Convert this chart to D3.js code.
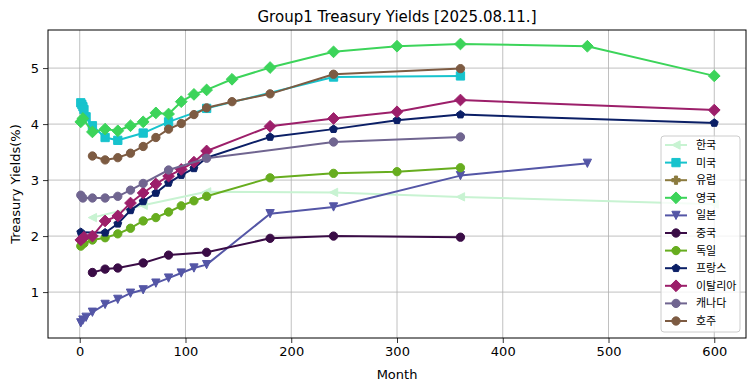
<!DOCTYPE html>
<html><head><meta charset="utf-8">
<script src="https://cdn.jsdelivr.net/npm/d3@7"></script>
<style>
body{margin:0;background:#fff;}
svg{display:block;font-family:"DejaVu Sans","Noto Sans CJK KR",sans-serif;}
</style></head>
<body><svg id="chart" width="755" height="391"></svg>
<script>
const titleText = "Group1 Treasury Yields [2025.08.11.]";
const xLabel = "Month";
const yLabel = "Treasury Yields(%)";
const xTicks = [0,100,200,300,400,500,600];
const yTicks = [1,2,3,4,5];

const seriesNames = ["한국","미국","유럽","영국","일본","중국","독일","프랑스","이탈리아","캐나다","호주"];

const krMonths = [12,60,120,240,360,600];
const krValues = [2.33,2.55,2.79,2.78,2.70,2.57];
const usMonths = [1,2,3,4,6,12,24,36,60,84,120,240,360];
const usValues = [4.38,4.35,4.31,4.26,4.13,3.97,3.76,3.71,3.84,4.04,4.28,4.84,4.86];
const euMonths = [];
const euValues = [];
const ukMonths = [1,3,12,24,36,48,60,72,84,96,108,120,144,180,240,300,360,480,600];
const ukValues = [4.04,4.10,3.86,3.91,3.88,3.97,4.04,4.20,4.18,4.40,4.53,4.61,4.80,5.01,5.29,5.39,5.43,5.39,4.86];
const jpMonths = [1,3,6,12,24,36,48,60,72,84,96,108,120,180,240,360,480];
const jpValues = [0.45,0.50,0.55,0.64,0.78,0.87,0.98,1.04,1.16,1.25,1.34,1.43,1.49,2.40,2.52,3.08,3.30];
const cnMonths = [12,24,36,60,84,120,180,240,360];
const cnValues = [1.35,1.41,1.43,1.52,1.66,1.71,1.96,2.00,1.98];
const deMonths = [1,4,12,24,36,48,60,72,84,96,108,120,180,240,300,360];
const deValues = [1.82,1.87,1.93,1.97,2.04,2.14,2.27,2.33,2.43,2.54,2.63,2.71,3.04,3.12,3.15,3.22];
const frMonths = [1,24,36,48,60,72,84,96,108,120,180,240,300,360,600];
const frValues = [2.07,2.06,2.22,2.46,2.62,2.77,2.95,3.09,3.21,3.40,3.77,3.91,4.07,4.17,4.02];
const itMonths = [1,4,12,24,36,48,60,72,84,96,108,120,180,240,300,360,600];
const itValues = [1.93,1.98,2.00,2.27,2.36,2.59,2.77,2.93,3.07,3.19,3.32,3.52,3.96,4.10,4.22,4.43,4.25];
const caMonths = [1,3,12,24,36,48,60,84,120,240,360];
const caValues = [2.73,2.68,2.68,2.68,2.71,2.82,2.94,3.18,3.39,3.68,3.77];
const auMonths = [12,24,36,48,60,72,84,96,108,120,144,180,240,360];
const auValues = [3.43,3.36,3.40,3.48,3.60,3.76,3.91,4.01,4.17,4.29,4.40,4.54,4.89,4.99];

const seriesColors = ["#c8f3d2","#17c3cd","#8b7a3e","#3cd45a","#5456a6","#3a0c46","#67ad1f","#0b1f66","#9c1f6a","#706590","#7d5b42"];
const seriesMarkers = ["tri-left","square","plus","diamond","tri-down","circle","circle","pentagon","diamond","circle","circle"];

const allMonths = [krMonths,usMonths,euMonths,ukMonths,jpMonths,cnMonths,deMonths,frMonths,itMonths,caMonths,auMonths];
const allValues = [krValues,usValues,euValues,ukValues,jpValues,cnValues,deValues,frValues,itValues,caValues,auValues];
const series = seriesNames.map((n,i)=>({name:n,color:seriesColors[i],marker:seriesMarkers[i],
  points:allMonths[i].map((m,j)=>({x:m,y:allValues[i][j]}))}));

const svg = d3.select("#chart");
const L=48,R=746,T=30,B=338;
const x = d3.scaleLinear().domain([-30,630]).range([L,R]);
const y = d3.scaleLinear().domain([0.18,5.68]).range([B,T]);

// grid
const g = svg.append("g");
g.selectAll(".vg").data(xTicks).enter().append("line")
  .attr("x1",d=>x(d)).attr("x2",d=>x(d)).attr("y1",T).attr("y2",B)
  .attr("stroke","#b0b0b0").attr("stroke-width",0.8);
g.selectAll(".hg").data(yTicks).enter().append("line")
  .attr("y1",d=>y(d)).attr("y2",d=>y(d)).attr("x1",L).attr("x2",R)
  .attr("stroke","#b0b0b0").attr("stroke-width",0.8);

// axes
const xAxis = svg.append("g").attr("transform",`translate(0,${B})`)
  .call(d3.axisBottom(x).tickValues(xTicks).tickFormat(d3.format("d")).tickSize(5).tickPadding(4));
const yAxis = svg.append("g").attr("transform",`translate(${L},0)`)
  .call(d3.axisLeft(y).tickValues(yTicks).tickFormat(d3.format("d")).tickSize(5).tickPadding(4));
[xAxis,yAxis].forEach(a=>{
  a.select(".domain").remove();
  a.selectAll("text").attr("font-size",13).attr("fill","#000").attr("font-family","DejaVu Sans");
  a.selectAll("line").attr("stroke","#000").attr("stroke-width",0.8);
});
svg.append("rect").attr("x",L).attr("y",T).attr("width",R-L).attr("height",B-T)
  .attr("fill","none").attr("stroke","#000").attr("stroke-width",1);

// marker paths
const ms = 4.15;
function markerPath(type){
  switch(type){
    case "circle": return d3.symbol(d3.symbolCircle, Math.PI*ms*ms)();
    case "square": return `M${-ms},${-ms}H${ms}V${ms}H${-ms}Z`;
    case "diamond": { const r = ms*Math.SQRT2; return `M0,${-r}L${r},0L0,${r}L${-r},0Z`; }
    case "tri-down": return `M0,${ms}L${-ms},${-ms}L${ms},${-ms}Z`;
    case "tri-left": return `M${-ms},0L${ms},${-ms}L${ms},${ms}Z`;
    case "pentagon": { const pts=d3.range(5).map(k=>{const a=-Math.PI/2+k*2*Math.PI/5;return [ms*Math.cos(a),ms*Math.sin(a)];}); return "M"+pts.map(p=>p.join(",")).join("L")+"Z"; }
    case "plus": { const w=ms*0.38; return `M${-w},${-ms}H${w}V${-w}H${ms}V${w}H${w}V${ms}H${-w}V${w}H${-ms}V${-w}H${-w}Z`; }
  }
}

const line = d3.line().x(d=>x(d.x)).y(d=>y(d.y));
const plot = svg.append("g");
series.forEach(s=>{
  const sg = plot.append("g");
  if(s.points.length){
    sg.append("path").attr("d",line(s.points)).attr("fill","none")
      .attr("stroke",s.color).attr("stroke-width",2).attr("stroke-linejoin","round").attr("stroke-linecap","square");
  }
  sg.selectAll("path.m").data(s.points).enter().append("path").attr("class","m")
    .attr("d",markerPath(s.marker))
    .attr("transform",d=>`translate(${x(d.x)},${y(d.y)})`)
    .attr("fill",s.color).attr("stroke",s.color).attr("stroke-width",1);
});

// title and labels
svg.append("text").attr("x",(L+R)/2).attr("y",22).attr("text-anchor","middle")
  .attr("font-size",15).attr("fill","#000").text(titleText);
svg.append("text").attr("x",(L+R)/2).attr("y",379).attr("text-anchor","middle")
  .attr("font-size",13).attr("fill","#000").text(xLabel);
svg.append("text").attr("transform",`translate(20,${(T+B)/2}) rotate(-90)`).attr("text-anchor","middle")
  .attr("font-size",13).attr("fill","#000").text(yLabel);

// legend
const lg = svg.append("g");
lg.append("rect").attr("x",661).attr("y",136).attr("width",79).attr("height",196).attr("rx",3)
  .attr("fill","#fff").attr("fill-opacity",0.8).attr("stroke","#cccccc").attr("stroke-width",1);
series.forEach((s,i)=>{
  const cy = 145 + i*17.6;
  lg.append("line").attr("x1",665).attr("x2",687).attr("y1",cy).attr("y2",cy)
    .attr("stroke",s.color).attr("stroke-width",2);
  lg.append("path").attr("d",markerPath(s.marker)).attr("transform",`translate(676,${cy})`)
    .attr("fill",s.color).attr("stroke",s.color).attr("stroke-width",1);
  lg.append("text").attr("x",696).attr("y",cy+4).attr("font-size",11)
    .attr("font-family","'Noto Sans CJK KR','DejaVu Sans',sans-serif").attr("fill","#000").text(s.name);
});
</script></body></html>
